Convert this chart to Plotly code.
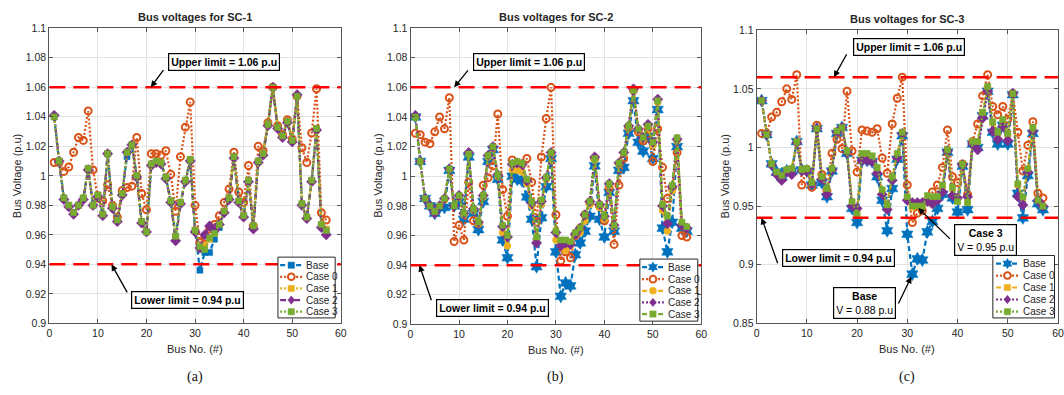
import math
import plotly.graph_objects as go

# ---------------- data ----------------
bus = list(range(1, 58))
series_names = ["Base", "Case 0", "Case 1", "Case 2", "Case 3"]

# SC-1
sc1_base = [1.040,1.010,0.985,0.980,0.975,0.980,0.985,1.005,0.980,0.987,
            0.974,1.015,0.979,0.970,0.988,1.013,1.021,1.000,0.969,0.962,
            1.008,1.010,1.009,0.999,0.983,0.959,0.982,0.997,1.011,0.963,
            0.936,0.948,0.948,0.957,0.965,0.976,0.985,1.013,0.983,0.973,
            0.997,0.966,1.010,1.015,1.035,1.060,1.033,1.027,1.037,1.024,
            1.054,0.981,0.972,0.997,1.032,0.967,0.963]
sc1_case0 = [1.009,1.009,1.003,1.006,1.016,1.026,1.024,1.044,1.004,0.985,
             0.983,0.994,0.980,0.972,0.990,0.992,0.993,1.026,0.988,0.977,
             1.015,1.015,1.014,1.017,1.001,0.976,1.013,1.033,1.050,0.980,
             0.955,0.958,0.964,0.967,0.973,0.982,0.991,1.016,0.989,0.982,
             1.007,0.966,1.020,1.017,1.036,1.060,1.034,1.028,1.038,1.025,
             1.054,1.019,1.009,1.029,1.059,0.975,0.970]
sc1_case1 = [1.040,1.010,0.985,0.980,0.975,0.980,0.985,1.005,0.980,0.987,
             0.974,1.015,0.979,0.970,0.988,1.016,1.021,1.000,0.969,0.962,
             1.008,1.010,1.009,0.999,0.983,0.959,0.982,0.997,1.011,0.963,
             0.951,0.953,0.957,0.961,0.967,0.976,0.985,1.013,0.983,0.973,
             0.997,0.966,1.010,1.015,1.035,1.060,1.033,1.027,1.037,1.024,
             1.054,0.981,0.972,0.997,1.032,0.967,0.964]
sc1_case2 = [1.041,1.010,0.984,0.979,0.974,0.980,0.984,1.004,0.980,0.986,
             0.973,1.015,0.978,0.969,0.987,1.016,1.021,0.999,0.968,0.962,
             1.007,1.009,1.008,0.998,0.982,0.956,0.981,0.996,1.010,0.962,
             0.951,0.960,0.966,0.963,0.967,0.975,0.984,1.012,0.982,0.972,
             0.996,0.964,1.009,1.014,1.034,1.060,1.032,1.026,1.036,1.023,
             1.055,0.980,0.971,0.996,1.031,0.965,0.960]
sc1_case3 = [1.040,1.010,0.985,0.980,0.975,0.980,0.985,1.005,0.980,0.987,
             0.974,1.015,0.979,0.970,0.988,1.016,1.021,1.000,0.969,0.962,
             1.008,1.010,1.009,0.999,0.983,0.959,0.982,0.997,1.011,0.963,
             0.952,0.950,0.958,0.961,0.967,0.976,0.985,1.013,0.983,0.973,
             0.997,0.966,1.010,1.015,1.035,1.060,1.033,1.027,1.037,1.024,
             1.054,0.981,0.972,0.997,1.032,0.967,0.963]

# SC-2
sc2_base = [1.040,1.010,0.985,0.980,0.975,0.979,0.979,1.004,0.980,0.983,
            0.971,1.013,0.975,0.964,0.983,1.010,1.018,0.998,0.957,0.945,
            1.000,0.998,0.997,0.986,0.971,0.939,0.972,0.993,1.012,0.949,
            0.919,0.928,0.926,0.947,0.955,0.963,0.973,1.007,0.971,0.959,
            0.989,0.963,1.004,1.006,1.029,1.051,1.023,1.017,1.027,1.012,
            1.045,0.965,0.949,0.969,1.020,0.965,0.963]
sc2_case0 = [1.029,1.028,1.023,1.022,1.030,1.040,1.032,1.053,0.956,0.967,
             0.957,0.996,0.970,0.968,0.994,0.999,1.007,1.042,0.991,0.973,
             1.011,1.009,1.008,1.012,0.996,0.969,1.013,1.039,1.060,0.974,
             0.943,0.949,0.945,0.960,0.965,0.974,0.982,1.012,0.980,0.970,
             0.992,0.954,0.994,1.012,1.033,1.058,1.030,1.024,1.032,1.010,
             1.032,1.006,0.985,0.992,1.016,0.960,0.959]
sc2_case1 = [1.040,1.010,0.985,0.980,0.976,0.980,0.984,1.005,0.980,0.986,
             0.974,1.015,0.977,0.968,0.986,1.013,1.019,1.000,0.962,0.953,
             1.004,1.004,1.003,0.995,0.980,0.957,0.981,0.998,1.015,0.957,
             0.955,0.950,0.953,0.961,0.962,0.970,0.981,1.011,0.979,0.971,
             0.994,0.966,1.008,1.015,1.033,1.058,1.031,1.025,1.033,1.021,
             1.050,0.977,0.963,0.990,1.024,0.968,0.965]
sc2_case2 = [1.041,1.010,0.985,0.980,0.975,0.980,0.985,1.005,0.980,0.987,
             0.975,1.016,0.978,0.969,0.987,1.014,1.020,1.001,0.966,0.959,
             1.008,1.009,1.008,0.997,0.982,0.955,0.983,0.999,1.016,0.962,
             0.953,0.955,0.954,0.961,0.965,0.974,0.983,1.013,0.981,0.973,
             0.995,0.967,1.009,1.016,1.034,1.059,1.032,1.026,1.035,1.023,
             1.052,0.980,0.968,0.993,1.025,0.967,0.965]
sc2_case3 = [1.040,1.010,0.985,0.980,0.976,0.980,0.985,1.005,0.980,0.987,
             0.975,1.015,0.978,0.969,0.987,1.014,1.020,1.001,0.967,0.960,
             1.009,1.010,1.009,0.998,0.983,0.959,0.984,0.999,1.016,0.963,
             0.957,0.957,0.956,0.962,0.965,0.974,0.983,1.012,0.981,0.973,
             0.995,0.967,1.009,1.016,1.034,1.058,1.032,1.026,1.034,1.023,
             1.051,0.981,0.973,0.994,1.026,0.969,0.966]

# SC-3
sc3_base = [1.040,1.011,0.986,0.979,0.975,0.980,0.980,1.005,0.981,0.980,
            0.968,1.016,0.970,0.958,0.980,1.012,1.017,0.995,0.948,0.936,
            0.989,0.989,0.988,0.975,0.955,0.929,0.965,0.990,1.010,0.926,
            0.892,0.905,0.904,0.928,0.937,0.948,0.960,0.996,0.957,0.945,
            0.984,0.947,1.003,1.000,1.027,1.048,1.013,1.003,1.019,1.003,
            1.045,0.961,0.940,0.976,1.012,0.952,0.947]
sc3_case0 = [1.012,1.012,1.026,1.030,1.039,1.050,1.041,1.062,0.968,0.981,
             0.966,1.019,0.977,0.963,0.995,1.007,0.999,1.048,0.997,0.979,
             1.015,1.014,1.013,1.016,0.991,0.978,1.020,1.042,1.060,0.968,
             0.936,0.944,0.946,0.955,0.962,0.968,0.983,1.015,0.975,0.970,
             0.986,0.960,1.005,1.020,1.044,1.062,1.035,1.028,1.035,1.024,
             1.046,1.013,0.980,1.002,1.022,0.961,0.957]
sc3_case1 = [1.040,1.011,0.986,0.979,0.976,0.981,0.982,1.005,0.981,0.982,
             0.970,1.016,0.975,0.964,0.982,1.014,1.017,0.997,0.953,0.944,
             0.994,0.994,0.992,0.982,0.963,0.950,0.974,0.994,1.013,0.957,
             0.949,0.950,0.951,0.955,0.952,0.957,0.967,0.998,0.965,0.954,
             0.986,0.953,1.005,1.005,1.029,1.051,1.021,1.012,1.023,1.011,
             1.046,0.968,0.957,0.981,1.016,0.955,0.950]
sc3_case2 = [1.040,1.011,0.985,0.977,0.972,0.979,0.977,1.004,0.980,0.980,
             0.969,1.016,0.973,0.960,0.981,1.013,1.017,0.996,0.950,0.948,
             0.989,0.989,0.988,0.978,0.960,0.947,0.972,0.991,1.012,0.955,
             0.953,0.953,0.953,0.954,0.952,0.955,0.962,0.997,0.959,0.957,
             0.985,0.958,1.003,0.998,1.025,1.048,1.014,1.007,1.018,1.006,
             1.046,0.958,0.951,0.979,1.014,0.955,0.950]
sc3_case3 = [1.040,1.011,0.986,0.979,0.976,0.981,0.982,1.005,0.981,0.982,
             0.970,1.016,0.975,0.965,0.982,1.014,1.017,0.997,0.954,0.943,
             0.995,0.995,0.993,0.983,0.964,0.951,0.975,0.995,1.013,0.958,
             0.950,0.950,0.950,0.959,0.958,0.958,0.968,0.998,0.966,0.954,
             0.986,0.953,1.005,1.005,1.030,1.052,1.022,1.013,1.024,1.012,
             1.046,0.969,0.958,0.982,1.017,0.955,0.950]

upper_limit = 1.06
lower_limit = 0.94

x_tick_vals = [0, 10, 20, 30, 40, 50, 60]
y_ticks_ab = [0.9, 0.92, 0.94, 0.96, 0.98, 1.0, 1.02, 1.04, 1.06, 1.08, 1.1]
y_labels_ab = ["0.9", "0.92", "0.94", "0.96", "0.98", "1", "1.02", "1.04", "1.06", "1.08", "1.1"]
y_ticks_c = [0.85, 0.9, 0.95, 1.0, 1.05, 1.1]
y_labels_c = ["0.85", "0.9", "0.95", "1", "1.05", "1.1"]

titles = ["Bus voltages for SC-1", "Bus voltages for SC-2", "Bus voltages for SC-3"]
captions = ["(a)", "(b)", "(c)"]

# ---------------- styling ----------------
W, H = 1064, 395
colors = ["#0072BD", "#D95319", "#EDB120", "#7E2F8E", "#77AC30"]
FONT = "Liberation Sans, Arial, sans-serif"
TXT = "#262626"


def PX(px):
    return px / W


def PY(py):
    return 1 - py / H


panels = [
    dict(data=[sc1_base, sc1_case0, sc1_case1, sc1_case2, sc1_case3],
         symbols=["square", "circle-open", "square", "diamond", "square"],
         dashes=["5px,3px", "2px,2px", "2px,2px", "6px,3px,2px,3px", "2px,2px"],
         xdom=[0.0439, 0.3202], ydom=[0.1714, 0.9418], yr=[0.9, 1.1],
         yt=(y_ticks_ab, y_labels_ab),
         leg=dict(box=(277.3, 335.0, 259.0, 321.7), rows=(267.3, 279.3, 291.3, 303.3, 315.3),
                  line=(279.5, 302.0), text=304.0)),
    dict(data=[sc2_base, sc2_case0, sc2_case1, sc2_case2, sc2_case3],
         symbols=["hexagram", "circle-open", "circle", "diamond", "square"],
         dashes=["5px,3px", "2px,2px", "5px,3px", "2px,2px", "5px,3px"],
         xdom=[0.3863, 0.6619], ydom=[0.1686, 0.9423], yr=[0.9, 1.1],
         yt=(y_ticks_ab, y_labels_ab),
         leg=dict(box=(642.3, 700.7, 261.0, 325.0), rows=(269.3, 281.7, 293.7, 305.7, 317.7),
                  line=(644.5, 666.5), text=668.5)),
    dict(data=[sc3_base, sc3_case0, sc3_case1, sc3_case2, sc3_case3],
         symbols=["hexagram", "circle-open", "square", "diamond", "square"],
         dashes=["5px,3px", "2px,2px", "5px,3px", "2px,2px", "2px,2px"],
         xdom=[0.7143, 1.0], ydom=[0.1714, 0.9367], yr=[0.85, 1.1],
         yt=(y_ticks_c, y_labels_c),
         leg=dict(box=(998.3, 1060.5, 257.3, 321.7), rows=(265.7, 278.0, 290.3, 302.7, 315.3),
                  line=(1001.5, 1024.5), text=1026.5)),
]

sizes = {"square": 6, "circle-open": 7, "circle": 7, "diamond": 8, "hexagram": 10}

fig = go.Figure()
layout = dict(width=W, height=H, margin=dict(l=0, r=0, t=0, b=0),
              paper_bgcolor="white", plot_bgcolor="white", showlegend=False,
              font=dict(family=FONT, color=TXT))
annotations = []
shapes = []


def glyph_shapes(sym, cx, cy, color):
    """Legend key marker drawn as a shape in paper coordinates (pixel centre cx, cy)."""
    out = []
    if sym in ("square",):
        h = 3.2
        out.append(dict(type="rect", xref="paper", yref="paper", x0=PX(cx - h), x1=PX(cx + h),
                        y0=PY(cy + h), y1=PY(cy - h), fillcolor=color,
                        line=dict(color=color, width=0.5), layer="above"))
    elif sym == "circle":
        r = 3.6
        out.append(dict(type="circle", xref="paper", yref="paper", x0=PX(cx - r), x1=PX(cx + r),
                        y0=PY(cy + r), y1=PY(cy - r), fillcolor=color,
                        line=dict(color=color, width=0.5), layer="above"))
    elif sym == "circle-open":
        r = 3.4
        out.append(dict(type="circle", xref="paper", yref="paper", x0=PX(cx - r), x1=PX(cx + r),
                        y0=PY(cy + r), y1=PY(cy - r), fillcolor="white",
                        line=dict(color=color, width=2), layer="above"))
    elif sym == "diamond":
        r = 4.3
        pts = [(cx, cy - r), (cx + r * 0.8, cy), (cx, cy + r), (cx - r * 0.8, cy)]
        path = "M" + " L".join("%f,%f" % (PX(a), PY(b)) for a, b in pts) + " Z"
        out.append(dict(type="path", xref="paper", yref="paper", path=path, fillcolor=color,
                        line=dict(color=color, width=0.5), layer="above"))
    elif sym == "hexagram":
        R, r = 5.2, 3.0
        pts = []
        for k in range(12):
            ang = math.radians(-90 + 30 * k)
            rad = R if k % 2 == 0 else r
            pts.append((cx + rad * math.cos(ang), cy + rad * math.sin(ang)))
        path = "M" + " L".join("%f,%f" % (PX(a), PY(b)) for a, b in pts) + " Z"
        out.append(dict(type="path", xref="paper", yref="paper", path=path, fillcolor=color,
                        line=dict(color=color, width=0.5), layer="above"))
    return out


for i, p in enumerate(panels):
    sfx = "" if i == 0 else str(i + 1)
    xa, ya = "x" + sfx, "y" + sfx
    for j in range(5):
        sym = p["symbols"][j]
        marker = dict(symbol=sym, size=sizes[sym], color=colors[j],
                      line=dict(width=2 if sym == "circle-open" else 0.5, color=colors[j]))
        fig.add_trace(go.Scatter(
            x=bus, y=p["data"][j], name=series_names[j], mode="lines+markers",
            line=dict(color=colors[j], width=2.2, dash=p["dashes"][j]),
            marker=marker, xaxis=xa, yaxis=ya))
    axis_common = dict(showline=True, linecolor="#555555", linewidth=1, mirror="ticks",
                       ticks="inside", ticklen=4, tickcolor="#555555",
                       showgrid=True, gridcolor="#E3E3E3", gridwidth=1, zeroline=False,
                       tickfont=dict(size=10.5, color=TXT, family=FONT))
    layout["xaxis" + sfx] = dict(axis_common, domain=p["xdom"], range=[0, 60],
                                 tickvals=x_tick_vals, anchor=ya)
    layout["yaxis" + sfx] = dict(axis_common, domain=p["ydom"], range=p["yr"],
                                 tickvals=p["yt"][0], ticktext=p["yt"][1], anchor=xa)
    # limit lines
    for lim in (upper_limit, lower_limit):
        shapes.append(dict(type="line", xref=xa, yref=ya, x0=0, x1=60, y0=lim, y1=lim,
                           line=dict(color="#FF0000", width=2.5, dash="16px,8px")))
    # title, axis titles, caption
    annotations.append(dict(text="<b>%s</b>" % titles[i], xref=xa + " domain", yref=ya + " domain",
                            x=0.5, y=1, yanchor="bottom", yshift=3, showarrow=False,
                            font=dict(size=11, color=TXT, family=FONT)))
    annotations.append(dict(text="Bus No. (#)", xref=xa + " domain", yref=ya + " domain",
                            x=0.5, y=0, yanchor="middle", yshift=-26, showarrow=False,
                            font=dict(size=11, color=TXT, family=FONT)))
    annotations.append(dict(text="Bus Voltage (p.u)", xref=xa + " domain", yref=ya + " domain",
                            x=0, y=0.5, xanchor="center", xshift=-32, textangle=-90,
                            showarrow=False, font=dict(size=11, color=TXT, family=FONT)))
    annotations.append(dict(text=captions[i], xref=xa + " domain", yref="paper",
                            x=0.5, y=1 - 383 / H, yanchor="middle", showarrow=False,
                            font=dict(size=14, color="#111111",
                                      family="Liberation Serif, Times New Roman, serif")))
    # compact MATLAB-style legend
    lg = p["leg"]
    x0, x1, y0, y1 = lg["box"]
    shapes.append(dict(type="rect", xref="paper", yref="paper", x0=PX(x0), x1=PX(x1),
                       y0=PY(y1), y1=PY(y0), fillcolor="white",
                       line=dict(color=TXT, width=1), layer="above"))
    for j in range(5):
        cy = lg["rows"][j]
        lx0, lx1 = lg["line"]
        shapes.append(dict(type="line", xref="paper", yref="paper", x0=PX(lx0), x1=PX(lx1),
                           y0=PY(cy), y1=PY(cy), layer="above",
                           line=dict(color=colors[j], width=2.2, dash=p["dashes"][j])))
        shapes.extend(glyph_shapes(p["symbols"][j], (lx0 + lx1) / 2, cy, colors[j]))
        annotations.append(dict(text=series_names[j], xref="paper", yref="paper",
                                x=PX(lg["text"]), y=PY(cy), xanchor="left", yanchor="middle",
                                showarrow=False, font=dict(size=10, color=TXT, family=FONT)))

box_font = dict(size=10.5, color="black", family=FONT)
box = dict(showarrow=False, bgcolor="white", bordercolor="black", borderwidth=1.2,
           borderpad=2, font=box_font)
arrow = dict(text="", showarrow=True, arrowhead=2, arrowsize=1, arrowwidth=1.3,
             arrowcolor="black")

callouts = [
    # (axis suffix, text, box x, box y, tail x, tail y, head x, head y)
    ("", "<b>Upper limit = 1.06 p.u</b>", 36.0, 1.077, 23.7, 1.0726, 20.9, upper_limit),
    ("", "<b>Lower limit = 0.94 p.u</b>", 28.5, 0.916, 16.2, 0.920, 12.8, lower_limit),
    ("2", "<b>Upper limit = 1.06 p.u</b>", 24.5, 1.0768, 12.1, 1.0725, 9.0, upper_limit),
    ("2", "<b>Lower limit = 0.94 p.u</b>", 16.9, 0.9113, 4.4, 0.9153, 1.84, lower_limit),
    ("3", "<b>Upper limit = 1.06 p.u</b>", 30.4, 1.0853, 18.1, 1.0808, 15.4, upper_limit),
    ("3", "<b>Lower limit = 0.94 p.u</b>", 16.3, 0.9057, 4.3, 0.900, 1.0, lower_limit),
    ("3", "<b>Case 3</b><br>V = 0.95 p.u", 45.6, 0.921, 38.8, 0.9208, 32.2, 0.9484),
    ("3", "<b>Base</b><br>V = 0.88 p.u", 21.4, 0.867, 28.1, 0.8657, 30.8, 0.8897),
]
for sfx, txt, bx, by, tx, ty, hx, hy in callouts:
    xa, ya = "x" + sfx, "y" + sfx
    annotations.append(dict(arrow, xref=xa, yref=ya, axref=xa, ayref=ya,
                            x=hx, y=hy, ax=tx, ay=ty))
    annotations.append(dict(box, text=txt, xref=xa, yref=ya, x=bx, y=by))

layout["annotations"] = annotations
layout["shapes"] = shapes
fig.update_layout(**layout)
fig.write_html("out.html")
